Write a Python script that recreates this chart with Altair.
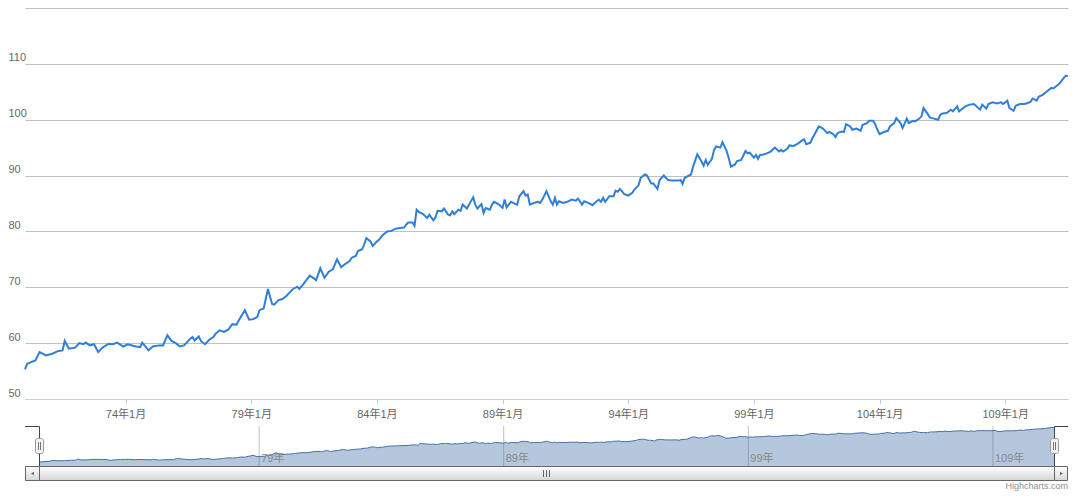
import altair as alt
import pandas as pd

FONT = "Liberation Sans, Noto Sans CJK TC, sans-serif"

# month offsets from 70年1月 (1981-01) and index values
months = [
    0, 1, 3, 5, 7, 10, 13, 16, 18, 19, 21, 24, 26, 28, 29, 31, 33, 35, 37, 40, 42, 44, 47, 49, 53, 55, 56, 59, 61, 64,
    66, 68, 70, 72, 74, 76, 79, 80, 81, 83, 84, 86, 88, 90, 91, 93, 95, 97, 99, 101, 102, 105, 107, 109, 111, 112, 114, 116, 118, 119, 121, 123, 125, 126,
    128, 130, 131, 133, 134, 136, 138, 139, 141, 143, 145, 147, 149, 151, 153, 155, 156, 158, 159, 161, 162, 163, 165, 166, 168, 169, 171, 173, 175, 177, 179, 181, 182, 183, 185, 186, 187, 188,
    190, 192, 193, 195, 196, 197, 199, 200, 202, 203, 204, 205, 207, 208, 209, 211, 212, 214, 215, 216, 218, 219, 220, 222, 223, 224, 226, 228, 229, 230, 232, 233, 235, 236, 238, 239, 240, 241, 243, 245, 246,
    247, 249, 251, 252, 253, 254, 255, 257, 259, 261, 263, 264, 266, 267, 269, 271, 272, 274, 275, 276, 277, 279, 281, 282, 283, 284, 285, 286, 288, 290, 291, 293, 294, 296, 297, 299, 300, 302, 303, 305, 307, 309,
    312, 313, 314, 315, 317, 318, 319, 321, 322, 324, 325, 326, 328, 329, 330, 332, 333, 335, 336, 337, 339, 340, 342, 344, 345, 346, 348, 349, 350, 351, 353, 355, 356, 358, 360, 361, 362, 364, 365, 367, 369, 371, 372, 373, 375,
    376, 377, 379, 381, 383, 384, 386, 387, 388, 390, 391, 392, 394, 395, 397, 399, 400, 402, 403, 405, 406, 407, 408, 410, 412, 413, 415, 416, 418, 419, 421, 422, 424, 425, 427, 428, 429, 431, 432,
    434, 436, 437, 438, 440, 442, 443, 445, 446, 448, 449, 451, 453, 454, 456, 457, 459, 460, 462, 464, 466, 467, 469, 470, 472, 473, 475, 477, 478, 480, 481, 483, 484, 486, 488, 490, 491, 493, 494, 496, 497, 498,
]
values = [
    55.3, 56.3, 56.6, 56.9, 58.4, 57.8, 58.1, 58.6, 58.7, 60.4, 59.0, 59.2, 60.0, 59.8, 60.1, 59.6, 59.8, 58.4, 59.2, 59.9, 59.8, 60.1, 59.4, 59.8, 59.4, 59.3, 60.1, 58.7, 59.4, 59.6,
    59.6, 61.4, 60.4, 60.0, 59.4, 59.6, 60.8, 61.1, 60.5, 61.2, 60.4, 59.8, 60.6, 61.1, 61.7, 62.3, 62.0, 62.4, 63.4, 63.3, 64.0, 65.9, 64.2, 64.3, 64.7, 65.9, 66.2, 69.7, 67.0, 66.9, 67.7, 67.9, 68.5, 68.9,
    69.7, 70.1, 69.7, 70.6, 71.1, 72.1, 71.6, 71.3, 73.4, 71.7, 72.8, 73.2, 75.0, 73.6, 74.2, 74.7, 75.3, 75.6, 76.5, 76.8, 77.7, 78.8, 78.2, 77.4, 78.2, 78.5, 79.4, 80.0, 80.1, 80.5, 80.6, 80.7, 81.2, 81.6, 81.6, 81.0, 83.9, 83.5,
    83.1, 82.4, 83.0, 82.0, 82.5, 83.7, 83.6, 84.1, 83.0, 82.9, 83.6, 83.1, 83.9, 83.7, 84.8, 84.1, 84.8, 86.1, 84.8, 84.1, 84.9, 83.3, 84.2, 83.9, 84.8, 85.3, 84.9, 84.2, 85.7, 84.3, 85.3, 85.1, 84.8, 86.3, 87.2, 86.4, 86.6, 84.8, 85.1, 85.3, 85.1,
    85.7, 87.2, 85.4, 84.8, 86.0, 84.8, 85.4, 85.1, 85.3, 85.7, 85.5, 85.9, 84.8, 85.4, 85.1, 84.7, 85.1, 85.7, 85.3, 86.0, 85.3, 86.3, 86.3, 87.3, 87.1, 87.6, 87.2, 86.7, 86.4, 86.9, 87.5, 88.3, 89.6, 90.2, 90.0, 88.6, 88.6, 87.6, 89.2, 90.0, 89.2, 89.1,
    89.1, 89.2, 88.5, 89.6, 90.0, 90.2, 91.6, 93.8, 93.2, 91.8, 92.8, 91.9, 93.0, 94.6, 95.2, 95.0, 96.0, 94.4, 93.1, 91.6, 92.0, 92.6, 92.8, 94.4, 94.0, 94.1, 93.2, 93.7, 93.0, 93.7, 93.8, 94.1, 94.3, 95.0, 94.3, 94.6, 94.3, 94.8, 95.4, 95.3, 95.7, 96.3, 96.5, 95.6, 95.9,
    96.7, 97.4, 98.8, 98.4, 97.6, 97.8, 97.4, 96.9, 97.6, 97.9, 97.8, 99.2, 98.8, 98.2, 98.4, 98.0, 99.1, 99.4, 99.8, 99.8, 99.1, 98.2, 97.4, 97.8, 98.0, 98.8, 99.4, 100.3, 99.4, 98.5, 100.2, 99.4, 99.8, 99.7, 100.2, 100.6, 102.1, 101.0, 100.4,
    100.2, 100.0, 100.9, 101.1, 101.2, 101.8, 101.5, 102.4, 101.5, 102.1, 102.4, 102.7, 102.8, 102.5, 101.8, 102.7, 102.0, 102.8, 103.1, 102.9, 103.1, 102.8, 103.4, 102.1, 101.6, 102.5, 102.8, 102.8, 102.9, 103.2, 103.8, 103.4, 104.1, 104.5, 105.1, 105.7, 105.6, 106.2, 106.5, 107.5, 107.9, 107.8,
]
assert len(months) == len(values)

main_tick_years = [1985, 1990, 1995, 2000, 2005, 2010, 2015, 2020]
nav_tick_years = [1990, 2000, 2010, 2020]
y_ticks = [50, 60, 70, 80, 90, 100, 110, 120]


def month_date(m):
    return f"{1981 + m // 12}/{m % 12 + 1:02d}/01"


df = pd.DataFrame({"date": [month_date(m) for m in months], "value": values})
nav_df = pd.DataFrame({
    "date": [f"{y}/01/01" for y in nav_tick_years],
    "label": [f"{y - 1911}年" for y in nav_tick_years],
})
one = pd.DataFrame({"k": [0]})

dom = [alt.DateTime(year=1981, month=1, date=1), alt.DateTime(year=2022, month=7, date=1)]

x_main = alt.X(
    "date:T",
    scale=alt.Scale(domain=dom, nice=False),
    axis=alt.Axis(
        values=[alt.DateTime(year=y, month=1, date=1) for y in main_tick_years],
        labelExpr="(year(datum.value) - 1911) + '年' + (month(datum.value) + 1) + '月'",
        grid=False, domainColor="#C0D0E0", tickColor="#C0D0E0", tickSize=5,
        labelPadding=4, labelColor="#666666", labelFontSize=11, labelFont=FONT,
        title=None,
    ),
)
y_main = alt.Y(
    "value:Q",
    scale=alt.Scale(domain=[50, 120], nice=False, zero=False),
    axis=alt.Axis(
        values=y_ticks,
        labelExpr="datum.value == 120 ? '' : datum.label",
        grid=True,
        gridColor={"condition": {"test": "datum.value === 50", "value": "#C0D0E0"}, "value": "#C0C0C0"},
        domain=False, ticks=False, tickSize=0,
        labelAlign="left", labelPadding=17, labelBaseline="alphabetic", labelOffset=-3,
        labelColor="#666666", labelFontSize=11, labelFont=FONT, title=None,
    ),
)

main = alt.Chart(df).mark_line(color="#2F7ED8", strokeWidth=2).encode(
    x=x_main, y=y_main
).properties(width=1043, height=391)

x_nav = alt.X("date:T", scale=alt.Scale(domain=dom, range=[14, 1029], nice=False), axis=None)
y_nav = alt.Y("value:Q", scale=alt.Scale(domain=[50, 110], nice=False, zero=False), axis=None)

grad = alt.LinearGradient(
    gradient="linear",
    stops=[alt.GradientStop(color="#FFFFFF", offset=0), alt.GradientStop(color="#D6D6D6", offset=1)],
    x1=0, x2=0, y1=0, y2=1,
)


def rect(x, x2, y, y2, **kw):
    return alt.Chart(one).mark_rect(**kw).encode(
        x=alt.value(x), x2=alt.value(x2), y=alt.value(y), y2=alt.value(y2))


def vrule(x, y, y2, color, width=1):
    return alt.Chart(one).mark_rule(color=color, strokeWidth=width).encode(
        x=alt.value(x), y=alt.value(y), y2=alt.value(y2))


def hrule(x, x2, y, color, width=1):
    return alt.Chart(one).mark_rule(color=color, strokeWidth=width).encode(
        x=alt.value(x), x2=alt.value(x2), y=alt.value(y))


nav_grid = alt.Chart(nav_df).mark_rule(color="#C0C0C0", strokeWidth=1).encode(
    x=x_nav, y=alt.value(0), y2=alt.value(40))
nav_area = alt.Chart(df).mark_area(color="#4572A7", opacity=0.4).encode(
    x=x_nav, y=y_nav, y2=alt.datum(50))
nav_line = alt.Chart(df).mark_line(color="#4572A7", strokeWidth=1).encode(x=x_nav, y=y_nav)
nav_text = alt.Chart(nav_df).mark_text(
    align="left", baseline="alphabetic", dx=2, fontSize=11, font=FONT, color="#888888"
).encode(x=x_nav, y=alt.value(35.5), text="label:N")

outline = [
    hrule(0, 14.5, 0.5, "#444444"),
    vrule(14.5, 0.5, 40, "#444444"),
    vrule(1029.5, 0.5, 40, "#444444"),
    hrule(1029.5, 1043, 0.5, "#444444"),
]
handles = [
    rect(10.5, 18.5, 12.5, 27.5, fill="#F2F2F2", stroke="#999999", strokeWidth=1, cornerRadius=2),
    vrule(13.5, 16, 24, "#777777"),
    vrule(15.5, 16, 24, "#777777"),
    rect(1025.5, 1033.5, 12.5, 27.5, fill="#F2F2F2", stroke="#999999", strokeWidth=1, cornerRadius=2),
    vrule(1028.5, 16, 24, "#777777"),
    vrule(1030.5, 16, 24, "#777777"),
]
scrollbar = [
    rect(0.5, 14.5, 40.5, 54.5, fill=grad, stroke="#666666", strokeWidth=1),
    rect(14.5, 1029.5, 40.5, 54.5, fill=grad, stroke="#666666", strokeWidth=1),
    rect(1029.5, 1042.5, 40.5, 54.5, fill=grad, stroke="#666666", strokeWidth=1),
    vrule(518.5, 44, 51, "#666666"),
    vrule(521.5, 44, 51, "#666666"),
    vrule(524.5, 44, 51, "#666666"),
    alt.Chart(one).mark_point(shape="triangle-left", filled=True, size=12, color="#666666", opacity=1).encode(
        x=alt.value(7.5), y=alt.value(47.5)),
    alt.Chart(one).mark_point(shape="triangle-right", filled=True, size=12, color="#666666", opacity=1).encode(
        x=alt.value(1036.5), y=alt.value(47.5)),
]
credits = alt.Chart(one).mark_text(
    text="Highcharts.com", align="right", baseline="middle", fontSize=9, font=FONT, color="#909090"
).encode(x=alt.value(1043), y=alt.value(60))

nav = alt.layer(
    nav_grid, nav_area, nav_line, nav_text, *outline, *handles, *scrollbar, credits
).properties(width=1043, height=40)

chart = alt.vconcat(main, nav, spacing=27, bounds="flush", padding=0).configure_view(strokeWidth=0)

chart.save("out.html", embed_options={"renderer": "svg", "actions": False})
